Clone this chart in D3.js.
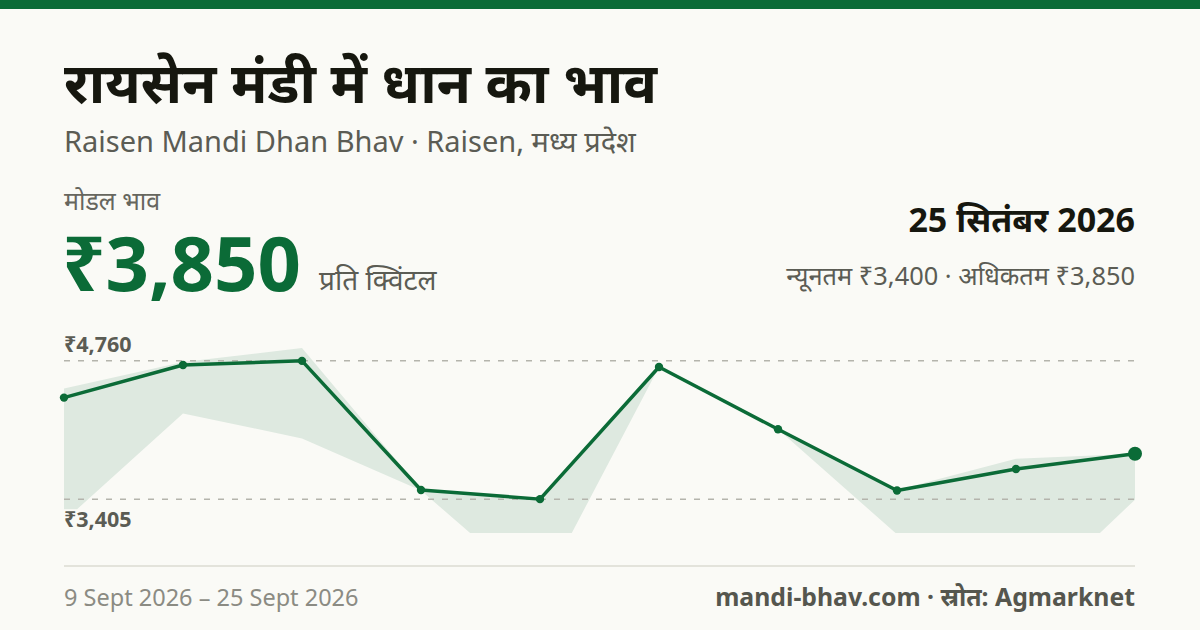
<!DOCTYPE html>
<html><head><meta charset="utf-8">
<script src="https://cdn.jsdelivr.net/npm/d3@7"></script>
<style>
html,body{margin:0;padding:0;background:#fafaf6;}
svg{display:block;font-family:"Noto Sans","Noto Sans Devanagari",sans-serif;}
</style></head>
<body><svg id="c" width="1200" height="630"></svg>
<script>
// ---- data ----
const dates = ["2026-09-09","2026-09-10","2026-09-11","2026-09-12","2026-09-15","2026-09-16","2026-09-18","2026-09-22","2026-09-24","2026-09-25"];
const modalPrice = [4400, 4720, 4760, 3495, 3405, 4700, 4090, 3490, 3700, 3850];
const maxPrice   = [4490, 4750, 4885, 3500, 3405, 4700, 4090, 3495, 3800, 3850];
const minPrice   = [3190, 4245, 4000, 3490, 2480, 4700, 4090, 3060, 2290, 3400];
const gridValues = [4760, 3405];
const gridLabels = ["₹4,760", "₹3,405"];

(function(){
const W = 1200, H = 630;
const green = "#0b6b37";
const svg = d3.select("#c");

svg.append("rect").attr("width", W).attr("height", H).attr("fill", "#fafaf6");
svg.append("rect").attr("width", W).attr("height", 9).attr("fill", green);

// header texts
svg.append("text").attr("x", 64).attr("y", 103).attr("font-size", 56).attr("font-weight", 700)
  .attr("fill", "#16170f").text("रायसेन मंडी में धान का भाव");
svg.append("text").attr("x", 64).attr("y", 152).attr("font-size", 29)
  .attr("fill", "#5b5c54").text("Raisen Mandi Dhan Bhav · Raisen, मध्य प्रदेश");
svg.append("text").attr("x", 64).attr("y", 210).attr("font-size", 25)
  .attr("fill", "#66665e").text("मोडल भाव");
svg.append("text").attr("x", 62).attr("y", 291).attr("font-size", 76).attr("font-weight", 700)
  .attr("fill", green).text("₹3,850");
svg.append("text").attr("x", 319).attr("y", 290).attr("font-size", 28)
  .attr("fill", "#5b5c54").text("प्रति क्विंटल");
svg.append("text").attr("x", 1135).attr("y", 232).attr("font-size", 34).attr("font-weight", 700)
  .attr("text-anchor", "end").attr("fill", "#16170f").text("25 सितंबर 2026");
svg.append("text").attr("x", 1135).attr("y", 285).attr("font-size", 25.4)
  .attr("text-anchor", "end").attr("fill", "#5b5c54").text("न्यूनतम ₹3,400 · अधिकतम ₹3,850");

// ---- chart ----
const pTop = 327, pBottom = 533, pLeft = 64, pRight = 1135;
const x = d3.scalePoint().domain(dates).range([pLeft, pRight]);
const lo = d3.min(modalPrice), hi = d3.max(modalPrice);
const pad = (hi - lo) * 0.245;
const y = d3.scaleLinear().domain([lo - pad, hi + pad]).range([pBottom, pTop]);

const rows = dates.map((d, i) => ({d, modal: modalPrice[i], max: maxPrice[i], min: minPrice[i]}));

svg.append("clipPath").attr("id", "clip").append("rect")
  .attr("x", pLeft).attr("y", pTop - 20).attr("width", pRight - pLeft).attr("height", pBottom - pTop + 20);

svg.append("path").datum(rows).attr("clip-path", "url(#clip)")
  .attr("fill", "#dee9e0")
  .attr("d", d3.area().x(r => x(r.d)).y0(r => y(r.min)).y1(r => y(r.max)));

svg.selectAll("line.grid").data(gridValues).join("line").attr("class", "grid")
  .attr("x1", pLeft).attr("x2", pRight).attr("y1", v => y(v)).attr("y2", v => y(v))
  .attr("stroke", "#b4b4ac").attr("stroke-width", 1.5).attr("stroke-dasharray", "6 8");

svg.append("path").datum(rows).attr("fill", "none").attr("stroke", green)
  .attr("stroke-width", 3.5).attr("stroke-linejoin", "round")
  .attr("d", d3.line().x(r => x(r.d)).y(r => y(r.modal)));

svg.selectAll("circle.pt").data(rows).join("circle").attr("class", "pt")
  .attr("cx", r => x(r.d)).attr("cy", r => y(r.modal))
  .attr("r", (r, i) => i === rows.length - 1 ? 7 : 4.2).attr("fill", green);

// value labels
svg.selectAll("text.gl").data(gridValues).join("text").attr("class", "gl")
  .attr("x", 64).attr("y", (v, i) => i === 0 ? y(v) - 9 : y(v) + 28)
  .attr("font-size", 21.5).attr("font-weight", 700).attr("fill", "#5b5c54")
  .attr("stroke", "#fafaf6").attr("stroke-width", 4).attr("paint-order", "stroke")
  .text((v, i) => gridLabels[i]);

// footer
svg.append("line").attr("x1", 64).attr("x2", 1135).attr("y1", 566).attr("y2", 566)
  .attr("stroke", "#e3e3db").attr("stroke-width", 2);
svg.append("text").attr("x", 64).attr("y", 606).attr("font-size", 23.5)
  .attr("fill", "#8b8b83").text("9 Sept 2026 – 25 Sept 2026");
svg.append("text").attr("x", 1135).attr("y", 606).attr("font-size", 24.8).attr("font-weight", 700)
  .attr("text-anchor", "end").attr("fill", "#55564e").text("mandi-bhav.com · स्रोत: Agmarknet");
})();
</script></body></html>
